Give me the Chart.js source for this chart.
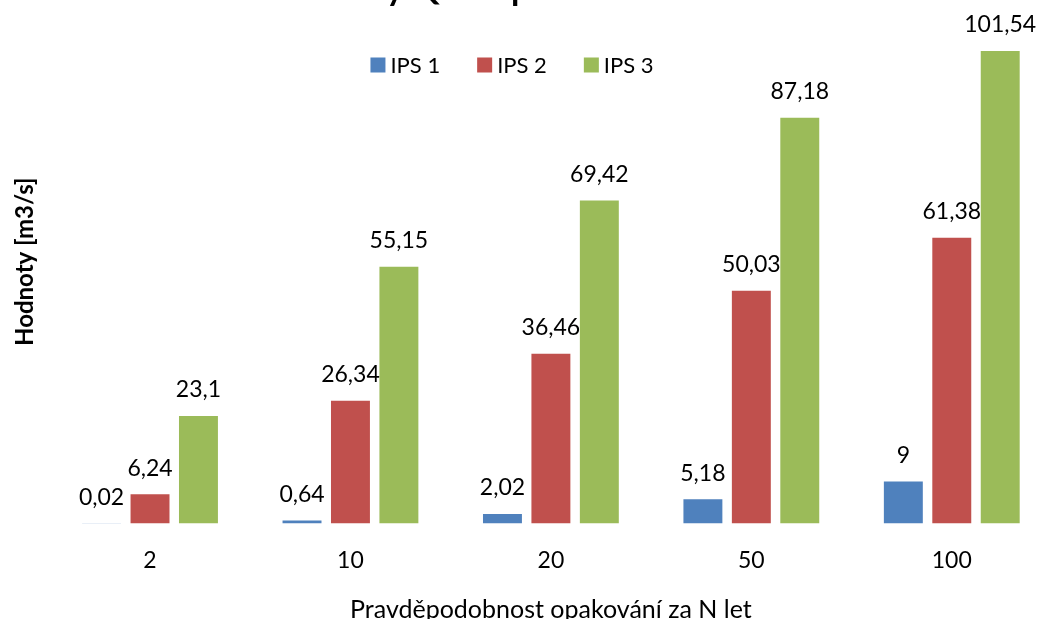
<!DOCTYPE html>
<html>
<head>
<meta charset="utf-8">
<script src="https://cdn.jsdelivr.net/npm/chart.js@4/dist/chart.umd.min.js"></script>
<style>
  html, body { margin: 0; padding: 0; background: #fff; overflow: hidden; }
  /* the drawing runs a little past the right edge of the page */
  #wrap { width: 1052px; height: 619px; position: relative; }
</style>
</head>
<body>
<div id="wrap"><canvas id="c"></canvas></div>
<script>
// Return periods (years) and peak discharges per station
const categories = ['2', '10', '20', '50', '100'];
const seriesNames = ['IPS 1', 'IPS 2', 'IPS 3'];
const ips1 = [0.02, 0.64, 2.02, 5.18, 9];
const ips2 = [6.24, 26.34, 36.46, 50.03, 61.38];
const ips3 = [23.1, 55.15, 69.42, 87.18, 101.54];
const colors = ['#4F81BD', '#C0504D', '#9BBB59'];

const chartTitle = 'Průtoky Qmax pro IPS';
const xTitle = 'Pravděpodobnost opakování za N let';
const yTitle = 'Hodnoty [m3/s]';

const FONT = 'Lato, "Open Sans", sans-serif';

function fmt(v) {
  return String(v).replace('.', ',');
}

// Value labels above each bar
const valueLabels = {
  id: 'valueLabels',
  afterDatasetsDraw(chart) {
    const ctx = chart.ctx;
    ctx.save();
    ctx.font = '23px ' + FONT;
    ctx.fillStyle = '#000';
    ctx.textAlign = 'center';
    ctx.textBaseline = 'middle';
    chart.data.datasets.forEach((ds, i) => {
      chart.getDatasetMeta(i).data.forEach((bar, j) => {
        ctx.fillText(fmt(ds.data[j]), bar.x, bar.y - 26);
      });
    });
    ctx.restore();
  }
};

// Series key drawn as one row over the plot
const keyRow = {
  id: 'keyRow',
  afterDraw(chart) {
    const ctx = chart.ctx;
    const box = 15, gap = 5, spacing = 37, cy = 65;
    ctx.save();
    ctx.font = '22px ' + FONT;
    ctx.textBaseline = 'middle';
    ctx.textAlign = 'left';
    const items = chart.data.datasets.map(ds => ({
      text: ds.label,
      color: ds.backgroundColor,
      w: box + gap + ctx.measureText(ds.label).width
    }));
    const total = items.reduce((s, it) => s + it.w, 0) + spacing * (items.length - 1);
    let x = chart.width / 2 - 14 - total / 2;
    items.forEach(it => {
      ctx.fillStyle = it.color;
      ctx.fillRect(x, cy - box / 2, box, box);
      ctx.fillStyle = '#000';
      ctx.fillText(it.text, x + box + gap, cy + 1);
      x += it.w + spacing;
    });
    ctx.restore();
  }
};

// Large chart heading, running off the top edge
const heading = {
  id: 'heading',
  afterDraw(chart) {
    const ctx = chart.ctx;
    ctx.save();
    ctx.font = 'bold 34px ' + FONT;
    ctx.fillStyle = '#000';
    ctx.textAlign = 'left';
    ctx.textBaseline = 'alphabetic';
    const pre = ctx.measureText('Průtok').width;
    ctx.fillText(chartTitle, 386 - pre, 0);
    ctx.restore();
  }
};

new Chart(document.getElementById('c'), {
  type: 'bar',
  data: {
    labels: categories,
    datasets: [ips1, ips2, ips3].map((d, i) => ({
      label: seriesNames[i],
      data: d,
      backgroundColor: colors[i],
      borderWidth: 0,
      categoryPercentage: 0.725,
      barPercentage: 0.804
    }))
  },
  options: {
    responsive: true,
    maintainAspectRatio: false,
    animation: false,
    layout: { padding: { top: 0, right: 0, bottom: -6, left: 0 } },
    plugins: {
      legend: { display: false },
      tooltip: { enabled: false },
      title: { display: false }
    },
    scales: {
      x: {
        grid: { display: false },
        border: { display: false },
        ticks: { color: '#000', padding: 15, font: { family: FONT, size: 23 } },
        title: {
          display: true,
          text: xTitle,
          color: '#000',
          padding: { top: 6, bottom: 0 },
          font: { family: FONT, size: 25 }
        }
      },
      y: {
        min: 0,
        max: 112.5,
        grid: { display: false },
        border: { display: false },
        ticks: { display: false },
        title: {
          display: true,
          text: yTitle,
          color: '#000',
          padding: { top: 11, bottom: 2 },
          font: { family: FONT, size: 24, weight: 'bold' }
        }
      }
    }
  },
  plugins: [valueLabels, keyRow, heading]
});
</script>
</body>
</html>
